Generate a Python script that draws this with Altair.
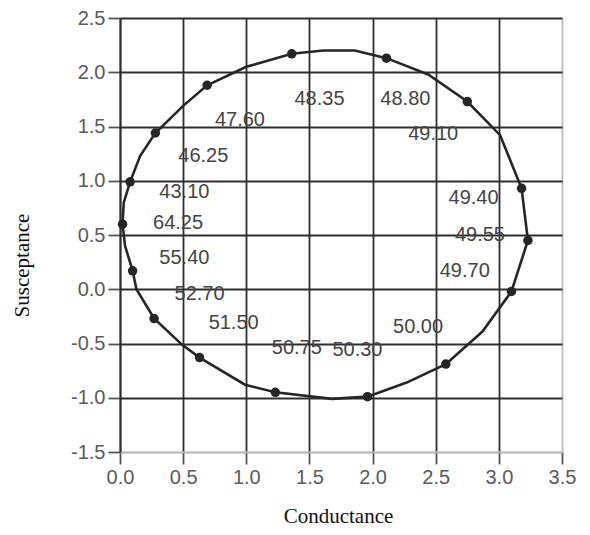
import altair as alt
import pandas as pd

# measured dots (conductance, susceptance)
dot_g = [0.02, 0.08, 0.28, 0.69, 1.36, 2.11, 2.75, 3.18, 3.23, 3.10, 2.58, 1.96, 1.23, 0.63, 0.27, 0.10]
dot_b = [0.60, 0.99, 1.44, 1.88, 2.17, 2.13, 1.73, 0.93, 0.45, -0.02, -0.69, -0.99, -0.95, -0.63, -0.27, 0.17]

# drawn loop vertices (in order around the loop)
curve_g = [0.02, 0.03, 0.08, 0.16, 0.28, 0.50, 0.69, 1.00, 1.36, 1.61, 1.86, 2.11, 2.44, 2.75, 3.01,
           3.18, 3.23, 3.10, 2.87, 2.58, 2.27, 1.96, 1.68, 1.23, 0.99, 0.63, 0.49, 0.27, 0.13, 0.10, 0.04]
curve_b = [0.60, 0.80, 0.99, 1.23, 1.44, 1.69, 1.88, 2.05, 2.17, 2.20, 2.20, 2.13, 1.98, 1.73, 1.42,
           0.93, 0.45, -0.02, -0.39, -0.69, -0.86, -0.99, -1.01, -0.95, -0.88, -0.63, -0.51, -0.27, 0.00, 0.17, 0.40]

# frequency labels
label_text = ["48.35", "48.80", "47.60", "46.25", "49.10", "43.10", "64.25", "49.40",
              "49.55", "55.40", "49.70", "52.70", "50.00", "51.50", "50.75", "50.30"]
label_g = [1.58, 2.26, 0.95, 0.66, 2.48, 0.51, 0.46, 2.80, 2.85, 0.51, 2.73, 0.63, 2.36, 0.90, 1.40, 1.88]
label_b = [1.75, 1.75, 1.56, 1.23, 1.43, 0.90, 0.61, 0.84, 0.50, 0.29, 0.17, -0.04, -0.35, -0.31, -0.54, -0.56]

x_ticks = [0.0, 0.5, 1.0, 1.5, 2.0, 2.5, 3.0, 3.5]
y_ticks = [-1.5, -1.0, -0.5, 0.0, 0.5, 1.0, 1.5, 2.0, 2.5]

curve_df = pd.DataFrame({"g": curve_g, "b": curve_b, "i": list(range(len(curve_g)))})
dot_df = pd.DataFrame({"g": dot_g, "b": dot_b})
lab_df = pd.DataFrame({"g": label_g, "b": label_b, "t": label_text})

DARK = "#2e2e2e"
LIGHT = "#bbbbbb"
MINUS_FIX = "replace(datum.label, '\u2212', '-')"

xscale = alt.Scale(domain=[0, 3.5], nice=False, zero=False)
yscale = alt.Scale(domain=[-1.5, 2.5], nice=False, zero=False)

xaxis = alt.Axis(
    values=x_ticks, format=".1f", title="Conductance", labelExpr=MINUS_FIX,
    labelFlush=False, labelOverlap=False,
    grid=True,
    gridColor={"condition": {"test": "datum.value == 3.5", "value": LIGHT}, "value": DARK},
    gridWidth=1.8,
    domainColor=LIGHT, domainWidth=1.6,
    tickColor="#555555", tickSize=12, tickWidth=1.8,
    labelFont="Liberation Sans", labelFontSize=20, labelColor="#5a5a5a", labelPadding=3,
    titleFont="Liberation Serif", titleFontSize=21, titleFontWeight="normal", titleColor="#111111",
    titleX=218, titleY=70, titleBaseline="alphabetic", titleAlign="center",
)
yaxis = alt.Axis(
    values=y_ticks, format=".1f", title="Susceptance", labelExpr=MINUS_FIX,
    labelFlush=False, labelOverlap=False,
    grid=True,
    gridColor={"condition": {"test": "datum.value == -1.5", "value": LIGHT}, "value": DARK},
    gridWidth=1.8,
    domainColor=DARK, domainWidth=1.8,
    tickColor="#555555", tickSize=12, tickWidth=1.8,
    labelFont="Liberation Sans", labelFontSize=20, labelColor="#5a5a5a", labelPadding=3,
    titleFont="Liberation Serif", titleFontSize=21, titleFontWeight="normal", titleColor="#111111",
    titleX=-98, titleY=247, titleBaseline="middle", titleAlign="center", titleAngle=-90,
)

line = alt.Chart(curve_df).mark_line(
    interpolate="linear-closed", color="#262626", strokeWidth=2.6
).encode(
    x=alt.X("g:Q", scale=xscale, axis=xaxis),
    y=alt.Y("b:Q", scale=yscale, axis=yaxis),
    order=alt.Order("i:Q"),
)

dots = alt.Chart(dot_df).mark_circle(size=90, color="#262626", opacity=1).encode(
    x=alt.X("g:Q", scale=xscale),
    y=alt.Y("b:Q", scale=yscale),
)

labels = alt.Chart(lab_df).mark_text(
    font="Liberation Sans", fontSize=20, color="#444444", align="center", baseline="middle"
).encode(
    x=alt.X("g:Q", scale=xscale),
    y=alt.Y("b:Q", scale=yscale),
    text="t:N",
)

chart = alt.layer(line, dots, labels).properties(
    width=442, height=434,
    autosize=alt.AutoSizeParams(type="none"),
    padding={"left": 112, "top": 10, "right": 20, "bottom": 75},
).configure_view(stroke=LIGHT, strokeWidth=1.6).configure(background="white")

chart.save("out.html", embed_options={"renderer": "svg", "actions": False})
